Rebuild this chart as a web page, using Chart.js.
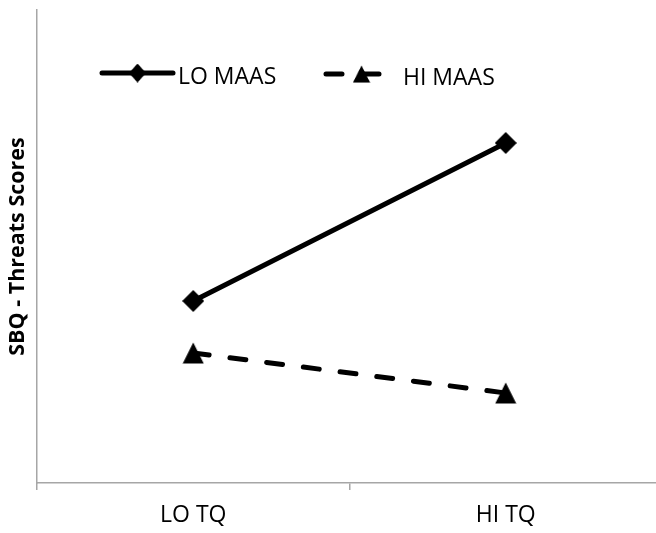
<!DOCTYPE html>
<html>
<head>
<meta charset="utf-8">
<script src="https://cdn.jsdelivr.net/npm/chart.js@4/dist/chart.umd.min.js"></script>
<style>
  html, body { margin: 0; padding: 0; background: #fff; overflow: hidden; }
  #wrap { width: 662px; height: 533px; }
</style>
</head>
<body>
<div id="wrap"><canvas id="myChart" width="662" height="533"></canvas></div>
<script>
// data (arbitrary units, axis has no tick labels)
const categories = ['LO TQ', 'HI TQ'];
const seriesNames = ['LO MAAS', 'HI MAAS'];
const loMaas = [1.82, 3.40];
const hiMaas = [1.30, 0.90];
const yTitle = 'SBQ - Threats Scores';

const axisGrey = '#a6a6a6';
const fontFamily = "'Open Sans', 'Liberation Sans', sans-serif";

// marker shapes
function makeDiamond(w, h) {
    const c = document.createElement('canvas');
    c.width = w; c.height = h;
    const g = c.getContext('2d');
    g.fillStyle = '#000';
    g.beginPath();
    g.moveTo(w / 2, 0);
    g.lineTo(w, h / 2);
    g.lineTo(w / 2, h);
    g.lineTo(0, h / 2);
    g.closePath();
    g.fill();
    return c;
}
function makeTriangle(w, h) {
    const c = document.createElement('canvas');
    c.width = w; c.height = h;
    const g = c.getContext('2d');
    g.fillStyle = '#000';
    g.beginPath();
    g.moveTo(w / 2, 0.5);
    g.lineTo(w - 0.5, h - 0.5);
    g.lineTo(0.5, h - 0.5);
    g.closePath();
    g.fill();
    return c;
}
const diamond = makeDiamond(22, 22);
const triangle = makeTriangle(22, 22);

// legend drawn like the office one: line sample with marker in the middle
const legendSpots = [
    {x0: 102, x1: 173, y: 73, textX: 178, mw: 17, mh: 19},
    {x0: 326, x1: 397, y: 74, textX: 403, mw: 18, mh: 18}
];
const lineLegend = {
    id: 'lineLegend',
    afterDraw(chart) {
        const ctx = chart.ctx;
        chart.data.datasets.forEach((ds, i) => {
            const s = legendSpots[i];
            ctx.save();
            ctx.strokeStyle = ds.borderColor;
            ctx.lineWidth = ds.borderWidth;
            ctx.lineCap = ds.borderCapStyle || 'butt';
            ctx.setLineDash(ds.borderDash || []);
            ctx.beginPath();
            ctx.moveTo(s.x0, s.y);
            ctx.lineTo(s.x1, s.y);
            ctx.stroke();
            ctx.setLineDash([]);
            const cx = (s.x0 + s.x1) / 2;
            ctx.drawImage(ds.pointStyle, cx - s.mw / 2, s.y - s.mh / 2, s.mw, s.mh);
            ctx.fillStyle = '#000';
            ctx.font = '23px ' + fontFamily;
            ctx.textBaseline = 'alphabetic';
            ctx.textAlign = 'left';
            ctx.fillText(ds.label, s.textX, s.y + 11);
            ctx.restore();
        });
    }
};

const data = {
    labels: categories,
    datasets: [{
        label: seriesNames[0],
        data: loMaas,
        borderColor: '#000',
        backgroundColor: '#000',
        borderWidth: 5,
        borderCapStyle: 'round',
        pointStyle: diamond,
        pointRadius: 11,
        tension: 0
    }, {
        label: seriesNames[1],
        data: hiMaas,
        borderColor: '#000',
        backgroundColor: '#000',
        borderWidth: 5,
        borderDash: [16, 21],
        borderCapStyle: 'round',
        pointStyle: triangle,
        pointRadius: 11,
        tension: 0
    }]
};

const config = {
    type: 'line',
    data,
    options: {
        responsive: false,
        animation: false,
        layout: { autoPadding: false, padding: { top: 10, left: 0, right: 0, bottom: 0 } },
        plugins: {
            legend: { display: false },
            tooltip: { enabled: false }
        },
        scales: {
            x: {
                offset: true,
                grid: {
                    offset: true,
                    drawOnChartArea: false,
                    drawTicks: true,
                    tickLength: 7,
                    color: axisGrey,
                    lineWidth: 1.5
                },
                border: { color: axisGrey, width: 1.5 },
                ticks: {
                    color: '#000',
                    font: { family: fontFamily, size: 23 },
                    padding: 12,
                    maxRotation: 0
                },
                afterFit: s => { s.height = 50; }
            },
            y: {
                min: 0,
                max: 4.73,
                grid: { drawOnChartArea: false, drawTicks: false, tickLength: 0 },
                border: { color: axisGrey, width: 1.5 },
                ticks: { display: false },
                title: {
                    display: true,
                    text: yTitle,
                    color: '#000',
                    font: { family: fontFamily, size: 21.5, weight: 'bold' },
                    padding: { top: 5, bottom: 0 }
                },
                afterFit: s => { s.width = 37; }
            }
        }
    },
    plugins: [lineLegend]
};

const myChart = new Chart(document.getElementById('myChart'), config);
</script>
</body>
</html>
